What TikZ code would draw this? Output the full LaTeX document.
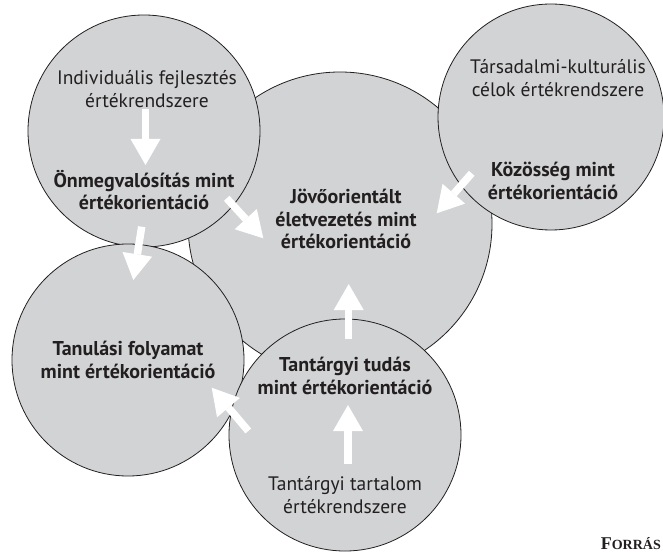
\documentclass[tikz,border=0pt]{standalone}
\usepackage{fontspec}
\setmainfont{PT Sans}
\newfontfamily\forrasfont{Liberation Serif}
\usepackage{xcolor}
\usepackage{tikz}
\usetikzlibrary{arrows.meta}
\definecolor{disc}{HTML}{D1D3D4}
\definecolor{ink}{HTML}{231F20}

\begin{document}
\begin{tikzpicture}[x=1pt, y=-1pt,
    circ/.style={circle, draw=ink, line width=0.8pt, fill=disc, inner sep=0pt, minimum size=#1},
    txt/.style={align=center, text=ink, inner sep=0pt, font=\fontsize{19.5}{22.5}\selectfont},
    btxt/.style={txt, font=\fontsize{20}{22.5}\selectfont\bfseries},
    arr/.style={white, line width=7.5pt, -{Triangle[length=26pt, width=30pt, line width=0pt]}}
]
\useasboundingbox (0,0) rectangle (663,553);

% circles, the big one first
\node[circ=304pt] (cjovo) at (340,224) {};
\node[circ=232pt] (cindiv) at (144,131) {};
\node[circ=226pt] (ctars) at (551,117) {};
\node[circ=232pt] (ctanul) at (128,360) {};
\node[circ=232pt] (ctudas) at (345,435) {};

\node[txt] (indiv) at (147,89) {Individuális fejlesztés\\értékrendszere};
\node[btxt] (onmeg) at (144,190) {Önmegvalósítás mint\\értékorientáció};
\node[btxt] (jovo) at (346,219) {Jövőorientált\\életvezetés mint\\értékorientáció};
\node[txt] (tars) at (558,78) {Társadalmi-kulturális\\célok értékrendszere};
\node[btxt] (kozos) at (553,181) {Közösség mint\\értékorientáció};
\node[btxt] (tanul) at (128,360) {Tanulási folyamat\\mint értékorientáció};
\node[btxt] (tudas) at (345,376) {Tantárgyi tudás\\mint értékorientáció};
\node[txt] (tartalom) at (345,495) {Tantárgyi tartalom\\értékrendszere};

\node[anchor=base east, text=ink, inner sep=0pt] (forras) at (661,549)
    {\forrasfont\bfseries\fontsize{18}{20}\selectfont F{\fontsize{14}{16}\selectfont ORRÁS}};

% arrow ends
\coordinate (indiv-out) at (145.5,109);
\coordinate (onmeg-in) at (145.5,165);
\coordinate (onmeg-out) at (226.7,198.3);
\coordinate (jovo-in1) at (263.3,238.3);
\coordinate (onmeg-down) at (141.7,226.7);
\coordinate (tanul-in) at (133.3,280);
\coordinate (kozos-out) at (471.7,173.3);
\coordinate (jovo-in2) at (436.7,213.3);
\coordinate (tudas-up) at (348.7,339);
\coordinate (jovo-in3) at (348.7,284);
\coordinate (tartalom-out) at (348,464);
\coordinate (tudas-in) at (348,405);
\coordinate (tudas-left) at (248.3,431);
\coordinate (tanul-in2) at (211.7,387.7);

\draw[arr] (indiv-out) -- (onmeg-in);
\draw[arr] (onmeg-out) -- (jovo-in1);
\draw[arr] (onmeg-down) -- (tanul-in);
\draw[arr] (kozos-out) -- (jovo-in2);
\draw[arr] (tudas-up) -- (jovo-in3);
\draw[arr] (tartalom-out) -- (tudas-in);
\draw[arr] (tudas-left) -- (tanul-in2);
\end{tikzpicture}
\end{document}
